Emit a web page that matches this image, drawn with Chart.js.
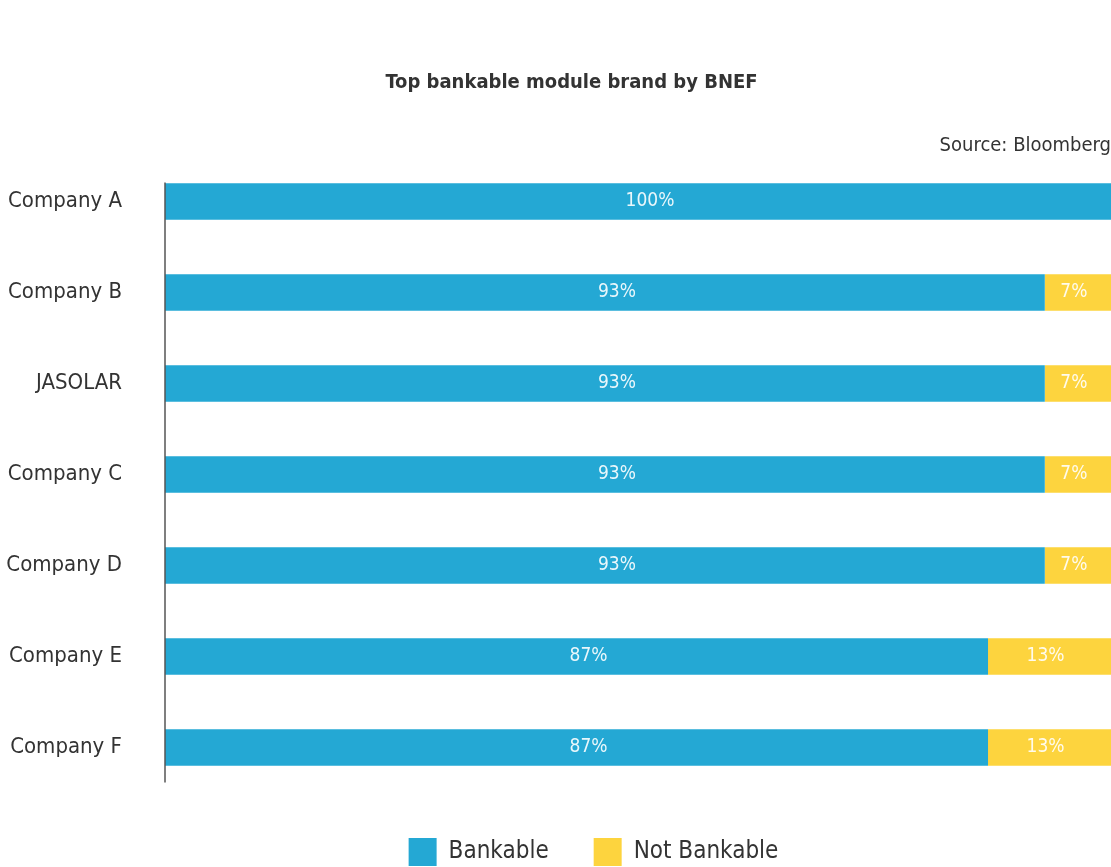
<!DOCTYPE html>
<html>
<head>
<meta charset="utf-8">
<script src="https://cdn.jsdelivr.net/npm/chart.js@4.4.1/dist/chart.umd.min.js"></script>
<style>
  html, body { margin: 0; padding: 0; background: #fff; }
  #wrap { width: 1111px; height: 867px; position: relative; }
</style>
</head>
<body>
<div id="wrap"><canvas id="bancaveis"></canvas></div>
<script>
const empresas = ['Company A', 'Company B', 'JASOLAR', 'Company C', 'Company D', 'Company E', 'Company F'];
const bankable = [100, 93, 93, 93, 93, 87, 87];
const notBankable = [0, 7, 7, 7, 7, 13, 13];

const fonte = "'DejaVu Sans Condensed', 'Liberation Sans Narrow', sans-serif";

// rótulos de porcentagem dentro das barras
const rotulosBarras = {
    id: 'rotulosBarras',
    afterDatasetsDraw(chart) {
        const ctx = chart.ctx;
        ctx.save();
        ctx.font = '19px ' + fonte;
        ctx.fillStyle = 'rgba(255,255,255,0.9)';
        ctx.textAlign = 'center';
        ctx.textBaseline = 'middle';
        chart.data.datasets.forEach((ds, i) => {
            const desloc = i === 0 ? 12 : -4;
            chart.getDatasetMeta(i).data.forEach((bar, j) => {
                if (!ds.data[j]) return;
                ctx.fillText(ds.data[j] + '%', (bar.x + bar.base) / 2 + desloc, bar.y);
            });
        });
        ctx.restore();
    }
};

// linha do eixo vertical
const linhaEixo = {
    id: 'linhaEixo',
    afterDatasetsDraw(chart) {
        const y = chart.scales.y;
        const ctx = chart.ctx;
        const topo = y.getPixelForValue(0) - 19;
        const fim = y.getPixelForValue(empresas.length - 1) + 35;
        ctx.save();
        ctx.strokeStyle = '#555';
        ctx.lineWidth = 1.5;
        ctx.beginPath();
        ctx.moveTo(chart.chartArea.left, topo);
        ctx.lineTo(chart.chartArea.left, fim);
        ctx.stroke();
        ctx.restore();
    }
};

// título e legenda um pouco deslocados para a direita
const ajusteCaixas = {
    id: 'ajusteCaixas',
    afterLayout(chart) {
        if (chart.titleBlock) chart.titleBlock.left += 26;
        if (chart.legend) chart.legend.left += 70;
    }
};

const ctxBancaveis = document.getElementById('bancaveis').getContext('2d');
new Chart(ctxBancaveis, {
    type: 'bar',
    data: {
        labels: empresas,
        datasets: [{
            label: 'Bankable',
            data: bankable,
            backgroundColor: '#24a8d4',
            categoryPercentage: 1,
            barPercentage: 0.4
        }, {
            label: 'Not Bankable',
            data: notBankable,
            backgroundColor: '#fdd43e',
            categoryPercentage: 1,
            barPercentage: 0.4
        }]
    },
    options: {
        indexAxis: 'y',
        responsive: true,
        maintainAspectRatio: false,
        animation: false,
        layout: {
            padding: { left: 6, right: 0, top: 0, bottom: -9 }
        },
        plugins: {
            title: {
                display: true,
                text: 'Top bankable module brand by BNEF',
                color: '#333',
                font: { family: fonte, size: 20, weight: 'bold' },
                padding: { top: 71, bottom: 41 }
            },
            subtitle: {
                display: true,
                text: 'Source: Bloomberg',
                align: 'end',
                color: '#333',
                font: { family: fonte, size: 20, lineHeight: 1 },
                padding: { top: 0, bottom: 0 }
            },
            legend: {
                position: 'bottom',
                labels: {
                    color: '#333',
                    font: { family: fonte, size: 24 },
                    boxWidth: 28,
                    boxHeight: 28,
                    padding: 45
                }
            },
            tooltip: { enabled: false }
        },
        scales: {
            x: {
                stacked: true,
                min: 0,
                max: 100,
                display: false
            },
            y: {
                stacked: true,
                afterFit(scale) { scale.width = 159; },
                grid: { display: false },
                border: { display: false },
                ticks: {
                    color: '#333',
                    font: { family: fonte, size: 22 },
                    padding: 35
                }
            }
        }
    },
    plugins: [rotulosBarras, linhaEixo, ajusteCaixas]
});
</script>
</body>
</html>
